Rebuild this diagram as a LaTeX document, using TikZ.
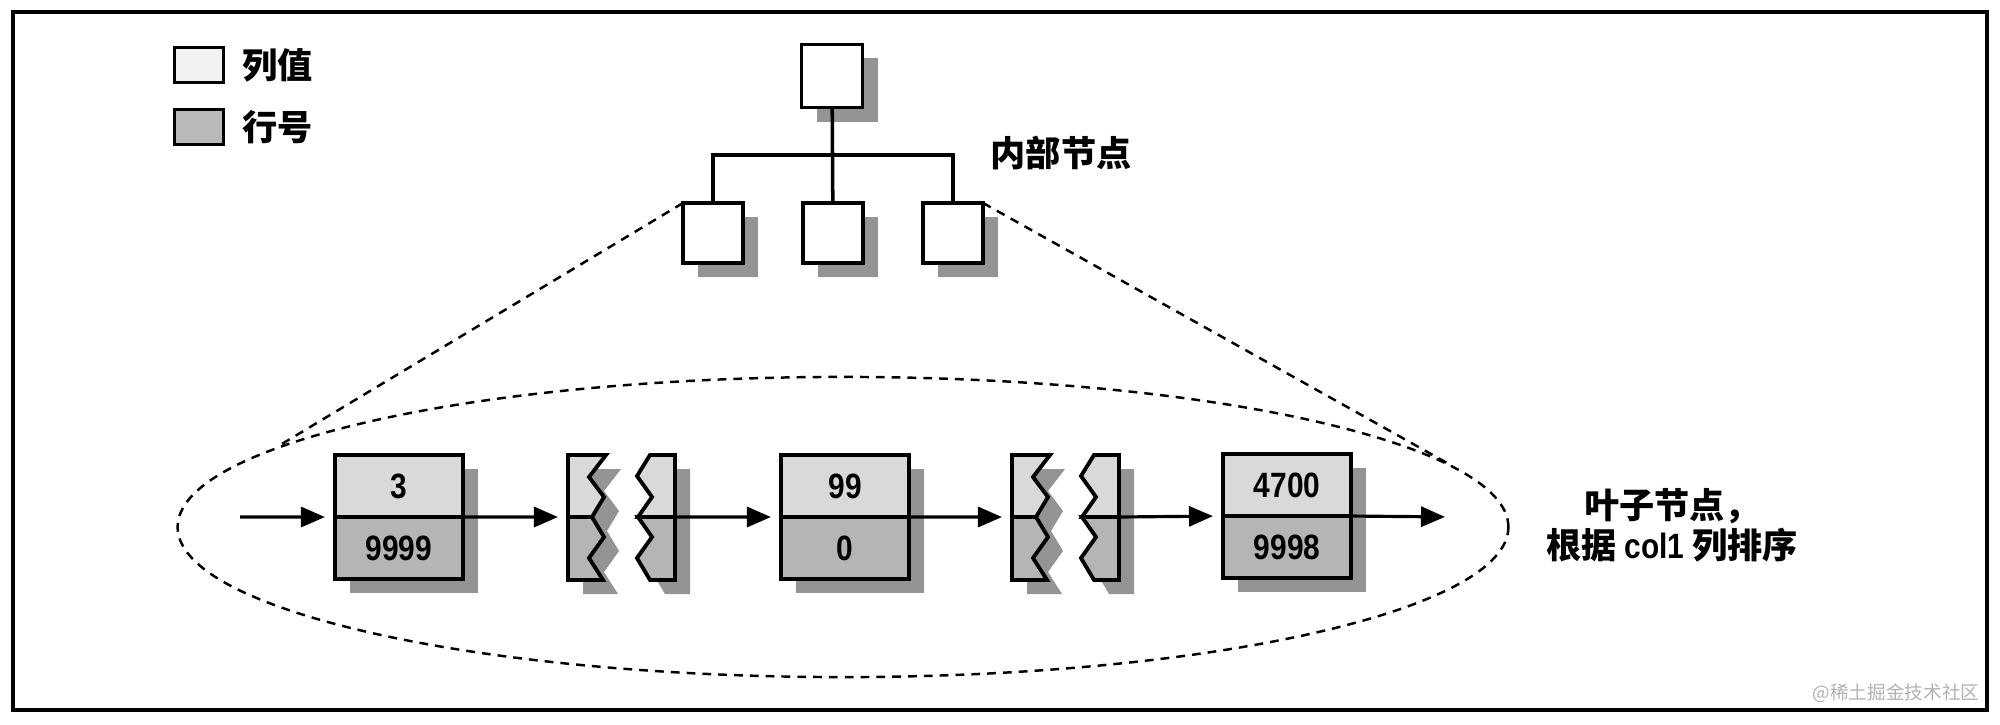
\documentclass[tikz,border=0pt]{standalone}
\usepackage{fontspec}
\newfontfamily\cjk{Noto Sans CJK SC}
\newfontfamily\digitfont[FakeStretch=0.85]{Liberation Sans}
\usetikzlibrary{arrows.meta,positioning,shapes.geometric,shadows}

\begin{document}
\begin{tikzpicture}[x=0.01cm,y=-0.01cm]
   \tikzstyle{dropped}=[drop shadow={shadow xshift=1.5mm,shadow yshift=-1.4mm,fill=black!42,opacity=1}]
   \tikzstyle{inner}=[draw,fill=white,line width=1.1pt,inner sep=0pt,outer sep=0pt,minimum width=6mm,minimum height=6mm,dropped]
   \tikzstyle{val}=[draw,fill=gray!30,line width=1.1pt,inner sep=0pt,outer sep=0pt,minimum width=12.8mm,minimum height=6.2mm,font=\digitfont\bfseries\fontsize{10}{10}\selectfont,dropped]
   \tikzstyle{row}=[val,fill=gray!58]
   \tikzstyle{key}=[draw,line width=1.1pt,minimum width=4.9mm,minimum height=3.5mm,inner sep=0pt]
   \tikzstyle{txt}=[font=\cjk\bfseries\fontsize{10}{11.4}\selectfont,inner sep=0pt]
   \tikzstyle{link}=[line width=0.9pt,-{Triangle[length=2.4mm,width=2mm]},shorten >=1mm]
   \tikzstyle{zoomline}=[line width=0.7pt,dash pattern=on 2.5pt off 2pt]
   \tikzstyle{piece}=[draw,line width=1.1pt,line join=miter]

   \useasboundingbox (0,0) rectangle (2000,724);
   \draw [line width=1pt] (13,12) rectangle (1987,710);

   % legend
   \node (lv) [key,fill=gray!10] at (199,65) {};
   \node (lr) [key,fill=gray!55] at (199,127) {};
   \node (lvtxt) [txt,right=1.6mm of lv] {列值};
   \node (lrtxt) [txt,right=1.6mm of lr] {行号};

   % inner nodes
   \node (root) [inner,minimum width=6.1mm,minimum height=6.3mm] at (832,76) {};
   \node (c1) [inner] at (713,233) {};
   \node (c2) [inner] at (833,233) {};
   \node (c3) [inner] at (953,233) {};
   \coordinate (bus) at (833,155);
   \draw [line width=1pt] (root) -- (c2);
   \draw [line width=1pt] (c1.north) |- (bus) -| (c3.north);
   \node (innertxt) [txt,anchor=west] at (990,153) {内部节点};

   % leaf level
   \node (leaves) [ellipse,draw,zoomline,inner sep=0pt,minimum width=13.3cm,minimum height=3cm] at (843,527) {};
   \draw [zoomline] (c1.north west) -- (leaves.172.6);
   \draw [zoomline] (c3.north east) -- (leaves.6.8);

   \node (v1) [val] at (399,486) {3};
   \node (r1) [row,below=0pt of v1] {9999};
   \node (v2) [val] at (845,486) {99};
   \node (r2) [row,below=0pt of v2] {0};
   \node (v3) [val] at (1287,485) {4700};
   \node (r3) [row,below=0pt of v3] {9998};

   \foreach \bx/\bn in {568/1,1012/2} {
      \begin{scope}[shift={(\bx,0)}]
         \fill [black!42,shift={(15,14)}] (0,455) -- (38,455) -- (21,477) -- (36,497) -- (24,517) -- (36,537) -- (21,558) -- (35,580) -- (0,580) -- cycle;
         \fill [black!42,shift={(15,14)}] (82,455) -- (107,455) -- (107,580) -- (82,580) -- (69,558) -- (84,537) -- (70,517) -- (84,497) -- (69,476) -- cycle;
         \filldraw [piece,fill=gray!30] (0,455) -- (38,455) -- (21,477) -- (36,497) -- (24,517) -- (0,517) -- cycle;
         \filldraw [piece,fill=gray!58] (0,517) -- (24,517) -- (36,537) -- (21,558) -- (35,580) -- (0,580) -- cycle;
         \filldraw [piece,fill=gray!30] (82,455) -- (107,455) -- (107,517) -- (70,517) -- (84,497) -- (69,476) -- cycle;
         \filldraw [piece,fill=gray!58] (70,517) -- (107,517) -- (107,580) -- (82,580) -- (69,558) -- (84,537) -- cycle;
      \end{scope}
      \coordinate (brk\bn in) at (\bx,517);
      \coordinate (brk\bn out) at (\bx+107,517);
   }

   \coordinate (in) at (240,517);
   \coordinate (out) at (1455,517);
   \draw [link] (in) -- (v1.south west);
   \draw [link] (v1.south east) -- (brk1in);
   \draw [link] (brk1out) -- (v2.south west);
   \draw [link] (v2.south east) -- (brk2in);
   \draw [link] (brk2out) -- (v3.south west);
   \draw [link] (v3.south east) -- (out);

   \node (leaftxt) [txt,align=center] at (1672,525) {叶子节点，\\根据 {\digitfont col1} 列排序};

   \node (mark) [anchor=east,inner sep=0pt,text=gray!60,font=\cjk\fontsize{5.3}{6}\selectfont] at (1980,693) {@稀土掘金技术社区};
\end{tikzpicture}
\end{document}
